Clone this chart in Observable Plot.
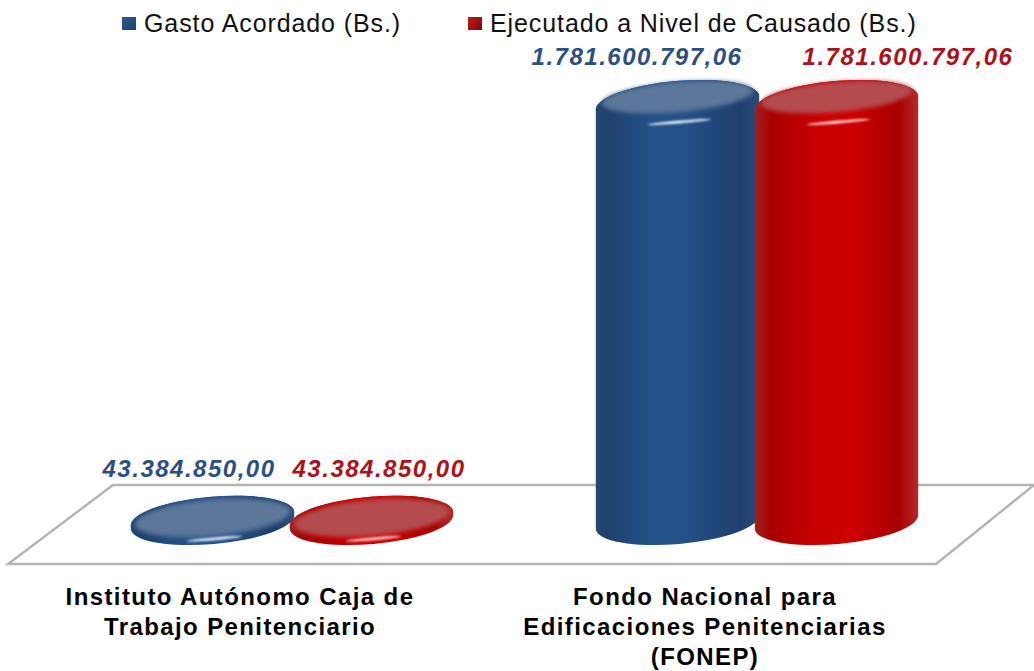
<!DOCTYPE html>
<html><head><meta charset="utf-8">
<script src="https://cdn.jsdelivr.net/npm/d3@7"></script>
<script src="https://cdn.jsdelivr.net/npm/@observablehq/plot@0.6"></script>
<style>
html,body{margin:0;padding:0;background:#fff;overflow:hidden}
#legend{position:relative;height:40px;font:25px "Liberation Sans",Arial,sans-serif;color:#111}
#legend span{position:absolute;top:9px;line-height:28px;white-space:nowrap;letter-spacing:.9px}
#legend i{position:absolute;top:17px;width:14px;height:13px;display:block}
svg text{font-family:"Liberation Sans",Arial,sans-serif}
g[aria-label="text"] text{letter-spacing:1.5px}
g[aria-label="fx-axis tick label"] text{letter-spacing:1.4px}
</style></head><body>
<div id="legend"></div>
<div id="chart"></div>
<script>
const groups = ["Instituto Autónomo Caja de\nTrabajo Penitenciario", "Fondo Nacional para\nEdificaciones Penitenciarias\n(FONEP)"];
const seriesNames = ["Gasto Acordado (Bs.)", "Ejecutado a Nivel de Causado (Bs.)"];
const gastoAcordado = [43384850.00, 1781600797.06];
const ejecutado = [43384850.00, 1781600797.06];
const textColors = ["#2c4f82", "#b0101a"];

const rows = groups.flatMap((g, i) => [
  {group: g, series: seriesNames[0], value: gastoAcordado[i], gi: i, si: 0},
  {group: g, series: seriesNames[1], value: ejecutado[i], gi: i, si: 1}
]);
const baseline = 30000000;
const fmt = d3.formatLocale({decimal: ",", thousands: ".", grouping: [3], currency: ["", ""]}).format(",.2f");

// legend
const legend = d3.select("#legend");
[[122, 144, "#1f3f6d", "#2d5a94"], [468, 490, "#7d0a0e", "#c41a1a"]].forEach(([sx, tx, a, b], i) => {
  legend.append("i").style("left", sx + "px").style("background", `linear-gradient(135deg,${b},${a})`);
  legend.append("span").style("left", tx + "px").text(seriesNames[i]);
});

const palette = [
  {id: "b", stops: [[0,"#24466f"],[.08,"#1f4170"],[.35,"#245288"],[.55,"#255088"],[.88,"#1f3f6e"],[1,"#2b4c7a"]],
   face: "#5c7799", shine: "#e4eefa"},
  {id: "r", stops: [[0,"#a02020"],[.1,"#a80000"],[.4,"#cc0000"],[.6,"#cc0000"],[.88,"#a80000"],[1,"#b52a2a"]],
   face: "#b44b4f", shine: "#ffd0d0"}
];
const tilt = -5, RX = 82, RY = 22;
const rad = tilt * Math.PI / 180;
const ends = (cx, cy, rx) => [[cx - rx * Math.cos(rad), cy - rx * Math.sin(rad)], [cx + rx * Math.cos(rad), cy + rx * Math.sin(rad)]];
const ell = (cx, cy, rx, ry) => {
  const [p, q] = ends(cx, cy, rx);
  return `M${p}A${rx} ${ry} ${tilt} 1 0 ${q}A${rx} ${ry} ${tilt} 1 0 ${p}Z`;
};
const body = (cx, yt, yb, rx, ry) => {
  const [p1, q1] = ends(cx, yt, rx), [p2, q2] = ends(cx, yb, rx);
  return `M${p1}L${p2}A${rx} ${ry} ${tilt} 0 0 ${q2}L${q1}A${rx} ${ry} ${tilt} 0 0 ${p1}Z`;
};

function cylinders(index, scales, values, dimensions, context) {
  const g = d3.create("svg:g");
  const bw = scales.x.bandwidth();
  for (const i of index) {
    const d = rows[i], p = palette[d.si];
    const cx = scales.x(d.series) + bw / 2, yb = scales.y(baseline), yt = scales.y(d.value);
    const tall = yb - yt > 50;
    g.append("path").attr("d", body(cx, yt, yb, RX, RY)).attr("fill", `url(#grad-${p.id})`);
    g.append("path").attr("d", ell(cx, yt, RX, RY)).attr("fill", `url(#grad-${p.id})`);
    g.append("path")
      .attr("d", tall ? ell(cx, yt - 6, RX - 6, RY - 7) : ell(cx, yt - 1, RX - 4, RY - 4))
      .attr("fill", p.face).attr("filter", "url(#soft)");
    g.append("path").attr("d", ell(cx + 2, yt + (tall ? 19 : 20), tall ? 32 : 28, 1.4))
      .attr("fill", p.shine).attr("filter", "url(#softer)");
  }
  return g.node();
}

const chart = Plot.plot({
  width: 1034, height: 631,
  marginTop: 63, marginBottom: 149, marginLeft: 59, marginRight: 45,
  style: {background: "transparent", fontFamily: "Liberation Sans"},
  fx: {domain: groups, padding: 0, axis: null},
  x: {domain: seriesNames, paddingInner: 0, paddingOuter: 0.462, axis: null},
  y: {domain: [baseline, 1781600797.06], axis: null},
  marks: [
    // floor
    Plot.frame({
      facet: "super",
      render(index, {y}) {
        const y0 = y(baseline);
        return d3.create("svg:path")
          .attr("d", `M8 ${y0 + 42}H936L1034 ${y0 - 37}H113Z`)
          .attr("fill", "#fff").attr("stroke", "#b4b4b4").attr("stroke-width", 2.4)
          .node();
      }
    }),
    Plot.barY(rows, {fx: "group", x: "series", y1: baseline, y2: "value", render: cylinders}),
    // per-label placement as in the reference
    ...[[0, 0, -24, -50], [0, 1, 7, -50], [1, 0, -41, -46], [1, 1, 71, -46]].map(([gi, si, dx, dy]) =>
      Plot.text(rows.filter(d => d.gi === gi && d.si === si), {
        fx: "group", x: "series", y: "value", text: d => fmt(d.value),
        dx, dy, fontSize: 24, fontWeight: "bold", fontStyle: "italic",
        fill: textColors[si], textAnchor: "middle"
      })),
    Plot.axisFx({anchor: "bottom", label: null, tickSize: 0, tickPadding: 61, dx: -52,
      fontSize: 24, fontWeight: "bold", lineHeight: 1.25, fill: "#000", tickFormat: d => d})
  ]
});
document.getElementById("chart").append(chart);

// gradient and filter definitions
const svg = d3.select(chart);
const defs = svg.insert("defs", ":first-child");
palette.forEach(p => {
  const lg = defs.append("linearGradient").attr("id", "grad-" + p.id).attr("x1", 0).attr("x2", 1).attr("y1", 0).attr("y2", 0);
  p.stops.forEach(([o, c]) => lg.append("stop").attr("offset", o).attr("stop-color", c));
});
defs.append("filter").attr("id", "soft").attr("x", "-20%").attr("y", "-40%").attr("width", "140%").attr("height", "180%")
  .append("feGaussianBlur").attr("stdDeviation", 2.2);
defs.append("filter").attr("id", "softer").attr("x", "-20%").attr("y", "-200%").attr("width", "140%").attr("height", "500%")
  .append("feGaussianBlur").attr("stdDeviation", 1.1);
</script>
</body></html>
